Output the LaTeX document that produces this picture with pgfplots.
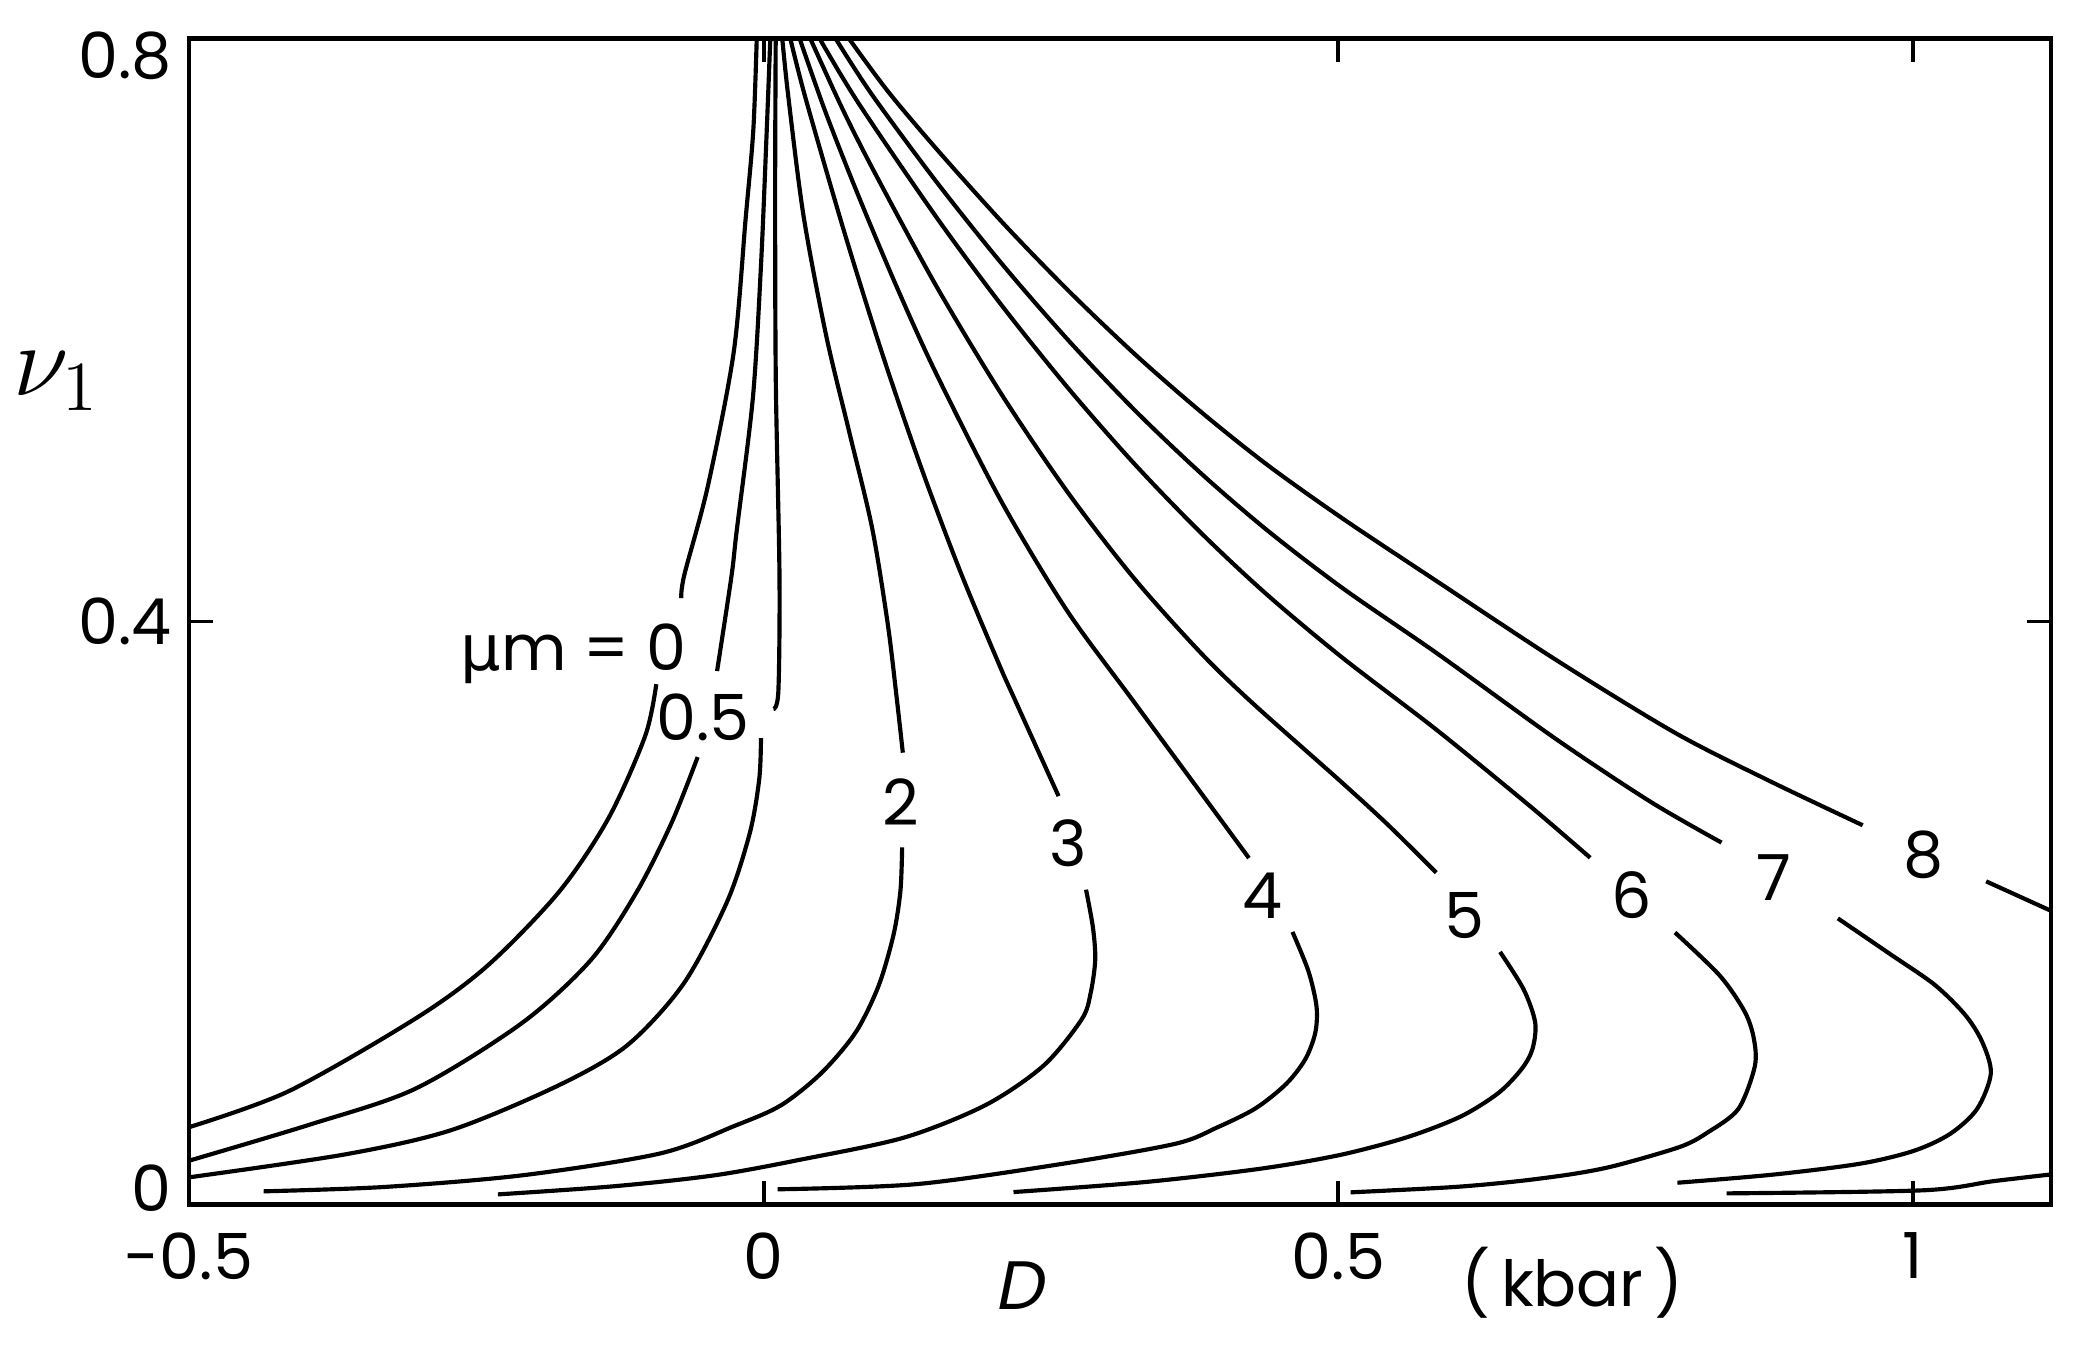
\documentclass[border=0pt]{standalone}
\usepackage{fontspec}
\setmainfont{Poppins}
\newfontfamily\greekfont{DejaVu Sans}
\newfontfamily\slsans[FakeSlant=0.2]{Poppins}
\usepackage{pgfplots}
\pgfplotsset{compat=1.18}
\tikzset{
  curve/.style={black, line width=0.85pt, smooth, mark=none},
  lab/.style={font=\fontsize{13}{15}\selectfont, inner sep=1pt},
}

\begin{document}
\begin{tikzpicture}
\useasboundingbox (-1.358,-1.024) rectangle (13.642,8.657);
\begin{axis}[
  at={(0,0)}, anchor=south west,
  scale only axis, width=13.383cm, height=8.38cm,
  xmin=-0.5, xmax=1.12, ymin=0, ymax=0.8,
  xtick={-0.5,0,0.5,1}, xticklabels={-0.5,0,0.5,1},
  ytick={0,0.4,0.8},
  yticklabels={{\vphantom{0}\smash{\raisebox{0.12cm}{0}}},0.4,{\vphantom{0}\smash{\raisebox{-0.12cm}{0.8}}}},
  tick align=inside, major tick length=0.17cm,
  axis line style={line width=0.85pt},
  every tick/.style={black, line width=0.8pt},
  tick label style={font=\fontsize{13}{15}\selectfont},
  xticklabel style={yshift=-0.08cm},
  clip=false,
]
% mu m = 0
\addplot[curve] coordinates {(-0.5,0.053) (-0.413,0.0778) (-0.302,0.128) (-0.240,0.164) (-0.178,0.2145) (-0.135,0.265) (-0.103,0.3216) (-0.0934,0.357)};
\addplot[curve] coordinates {(-0.0717,0.416) (-0.069,0.432) (-0.0485,0.493) (-0.026,0.585) (-0.0157,0.676) (-0.009,0.737) (-0.006,0.8)};
% 0.5
\addplot[curve] coordinates {(-0.5,0.030) (-0.3948,0.0548) (-0.3028,0.0795) (-0.2104,0.1244) (-0.150,0.168) (-0.110,0.215) (-0.080,0.262) (-0.0574,0.307)};
\addplot[curve] coordinates {(-0.0405,0.366) (-0.028,0.431) (-0.0234,0.4625) (-0.0093,0.554) (-0.0022,0.646) (0.0027,0.737) (0.0058,0.8)};
% 1
\addplot[curve] coordinates {(-0.5,0.0186) (-0.3638,0.0344) (-0.2718,0.051) (-0.1798,0.0812) (-0.119,0.109) (-0.0697,0.1514) (-0.0318,0.2077) (-0.012,0.255) (-0.0038,0.292) (-0.0023,0.320)};
\addplot[curve] coordinates {(0.0085,0.340) (0.0128,0.352) (0.0138,0.431) (0.0106,0.5646) (0.010,0.692) (0.0105,0.8)};
% 2
\addplot[curve] coordinates {(0.1211,0.310) (0.1155,0.3494) (0.1079,0.3988) (0.0943,0.4645) (0.0744,0.5303) (0.0544,0.5962) (0.0347,0.6784) (0.0214,0.7606) (0.0162,0.8)};
\addplot[curve] coordinates {(0.1205,0.245) (0.119,0.215) (0.113,0.185) (0.100,0.150) (0.080,0.118) (0.050,0.090) (0.015,0.068) (-0.025,0.054) (-0.09,0.035) (-0.21,0.020) (-0.33,0.012) (-0.435,0.009)};
% 3
\addplot[curve] coordinates {(0.2566,0.2802) (0.2182,0.347) (0.205,0.3703) (0.1711,0.4343) (0.1373,0.5051) (0.1036,0.5828) (0.0701,0.6674) (0.0366,0.7587) (0.0232,0.8)};
\addplot[curve] coordinates {(0.2805,0.216) (0.2865,0.19) (0.2885,0.168) (0.2845,0.145) (0.2767,0.127) (0.2436,0.0953) (0.1931,0.0682) (0.1227,0.046) (0.0325,0.0308) (-0.0427,0.020) (-0.13,0.0125) (-0.2312,0.0069)};
% 4
\addplot[curve] coordinates {(0.4222,0.2377) (0.3778,0.2853) (0.321,0.3461) (0.2636,0.4079) (0.2066,0.4827) (0.1499,0.5705) (0.1159,0.6294) (0.082,0.693) (0.0538,0.7496) (0.0313,0.8)};
\addplot[curve] coordinates {(0.4601,0.187) (0.474,0.160) (0.4810,0.136) (0.4800,0.118) (0.4715,0.100) (0.455,0.083) (0.4283,0.0661) (0.395,0.053) (0.358,0.0416) (0.2577,0.0276) (0.1324,0.0139) (0.0122,0.0104)};
% 5
\addplot[curve] coordinates {(0.5852,0.2277) (0.5429,0.2607) (0.5017,0.2905) (0.4237,0.3452) (0.3791,0.3795) (0.3219,0.43) (0.2647,0.4885) (0.2077,0.555) (0.1507,0.6295) (0.0973,0.707) (0.0689,0.7512) (0.0406,0.8)};
\addplot[curve] coordinates {(0.6407,0.1733) (0.6612,0.1476) (0.6713,0.1247) (0.6688,0.1064) (0.6593,0.0928) (0.6393,0.0765) (0.6066,0.0604) (0.560,0.0462) (0.5017,0.034) (0.432,0.0245) (0.3321,0.0154) (0.2174,0.0085)};
% 6
\addplot[curve] coordinates {(0.7191,0.2379) (0.6677,0.2727) (0.5854,0.3257) (0.503,0.3755) (0.4377,0.4186) (0.3804,0.4609) (0.323,0.5078) (0.2658,0.5593) (0.2086,0.6154) (0.1514,0.6762) (0.083,0.7551) (0.0487,0.8)};
\addplot[curve] coordinates {(0.7929,0.1866) (0.8319,0.157) (0.8536,0.1322) (0.8615,0.1138) (0.8623,0.0946) (0.848,0.0655) (0.8211,0.0493) (0.7972,0.0395) (0.7419,0.0268) (0.7056,0.0211) (0.6578,0.0161) (0.6013,0.012) (0.5107,0.0083)};
% 7
\addplot[curve] coordinates {(0.8334,0.2483) (0.7716,0.2763) (0.6891,0.3195) (0.5861,0.378) (0.5037,0.4229) (0.4384,0.4624) (0.381,0.5013) (0.3236,0.5444) (0.2662,0.592) (0.2089,0.6439) (0.1517,0.7003) (0.0947,0.761) (0.0626,0.8)};
\addplot[curve] coordinates {(0.9346,0.1963) (0.9795,0.1721) (1.0187,0.1508) (1.045,0.1304) (1.0599,0.112) (1.0677,0.090) (1.0557,0.0655) (1.0322,0.0484) (1.0007,0.0368) (0.9542,0.028) (0.8786,0.0205) (0.795,0.0149)};
% 8
\addplot[curve] coordinates {(0.9562,0.2602) (0.8756,0.2904) (0.793,0.3236) (0.6899,0.3734) (0.5869,0.427) (0.5044,0.4703) (0.439,0.507) (0.3816,0.5431) (0.3241,0.5826) (0.2667,0.6258) (0.2094,0.6724) (0.1521,0.7227) (0.1086,0.7633) (0.0742,0.8)};
\addplot[curve] coordinates {(1.0636,0.2217) (1.12,0.2015)};
\addplot[curve] coordinates {(1.12,0.0206) (1.0701,0.016) (1.0085,0.0097) (0.8378,0.0076)};

% curve labels
\node[lab, anchor=east] at (axis cs:-0.062,0.378) {{\greekfont μ}m = 0};
\node[lab] at (axis cs:-0.053,0.334) {0.5};
\node[lab] at (axis cs:0.119,0.276) {2};
\node[lab] at (axis cs:0.265,0.248) {3};
\node[lab] at (axis cs:0.434,0.212) {4};
\node[lab] at (axis cs:0.610,0.198) {5};
\node[lab] at (axis cs:0.755,0.2125) {6};
\node[lab] at (axis cs:0.8785,0.224) {7};
\node[lab] at (axis cs:1.009,0.240) {8};

% axis titles
\node at (axis cs:-0.615,0.565) {\fontsize{20}{22}\selectfont$\nu_1$};
\node at (axis cs:0.222,-0.056) {\fontsize{14}{16}\selectfont\slsans D};
\node at (axis cs:0.7036,-0.054) {\fontsize{13}{15}\selectfont(\,kbar\,)};
\end{axis}
\end{tikzpicture}
\end{document}
